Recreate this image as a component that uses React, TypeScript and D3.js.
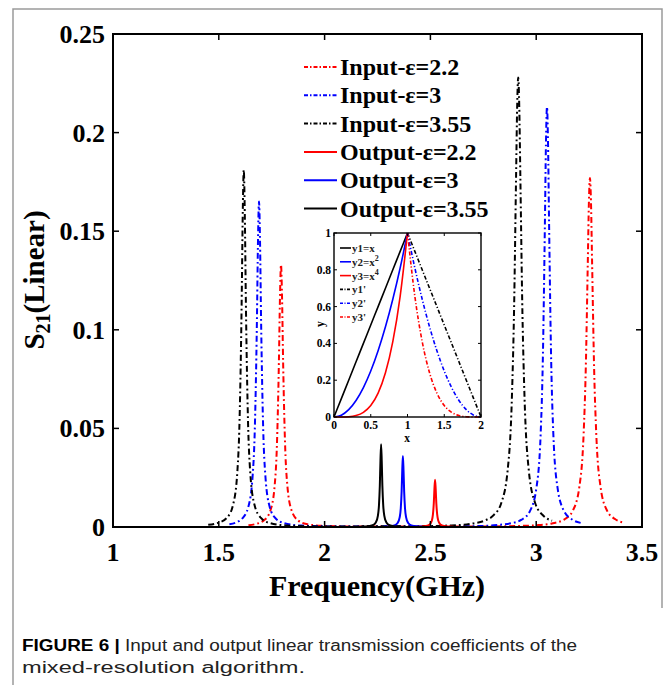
import React from 'react';
import * as d3 from 'd3';

// ---------- Main chart data (Frequency in GHz, S21 linear) ----------
const inputEps22F = [1.64,1.674,1.714,1.744,1.764,1.774,1.784,1.789,1.794,1.799,1.804,1.814,1.824,1.844,1.874,1.914,1.994,2.2,2.7,2.9,3.0,3.074,3.134,3.174,3.204,3.224,3.234,3.244,3.249,3.254,3.259,3.264,3.274,3.284,3.304,3.334,3.374,3.41];
const inputEps22S = [0.0009,0.0015,0.0034,0.0084,0.021,0.0395,0.0835,0.1158,0.133,0.1158,0.0835,0.0395,0.021,0.0084,0.0034,0.0015,0.0006,0.0002,0.0002,0.0005,0.0009,0.0018,0.0039,0.0085,0.0204,0.0469,0.0791,0.1352,0.1643,0.177,0.1643,0.1352,0.0791,0.0469,0.0204,0.0085,0.0039,0.0023];

const inputEps3F = [1.55,1.59,1.61,1.64,1.66,1.67,1.68,1.685,1.69,1.695,1.70,1.71,1.72,1.74,1.77,1.81,1.89,2.1,2.5,2.7,2.8,2.88,2.931,2.971,3.001,3.021,3.031,3.041,3.046,3.051,3.056,3.061,3.071,3.081,3.101,3.131,3.171,3.21];
const inputEps3S = [0.0014,0.0027,0.0042,0.0104,0.0261,0.049,0.1036,0.1437,0.165,0.1437,0.1036,0.049,0.0261,0.0104,0.0042,0.0019,0.0007,0.0002,0.0002,0.0004,0.0009,0.0019,0.0037,0.0082,0.0198,0.0471,0.0831,0.153,0.194,0.213,0.194,0.153,0.0831,0.0471,0.0198,0.0082,0.0037,0.0021];

const inputEps355F = [1.45,1.50,1.54,1.568,1.588,1.598,1.608,1.613,1.618,1.623,1.628,1.638,1.648,1.668,1.698,1.738,1.818,2.0,2.4,2.6,2.7,2.76,2.8,2.835,2.865,2.885,2.895,2.905,2.91,2.915,2.92,2.925,2.935,2.945,2.965,2.995,3.035,3.075];
const inputEps355S = [0.0011,0.0022,0.0049,0.0115,0.0286,0.0538,0.1137,0.1577,0.181,0.1577,0.1137,0.0538,0.0286,0.0115,0.0047,0.0021,0.0008,0.0003,0.0004,0.0008,0.0018,0.0034,0.0061,0.0122,0.0287,0.0652,0.108,0.1785,0.213,0.228,0.213,0.1785,0.108,0.0652,0.0287,0.0122,0.0056,0.0032];

const outputEps22F = [2.44,2.45,2.48,2.497,2.507,2.512,2.516,2.519,2.522,2.525,2.528,2.532,2.537,2.547,2.564,2.594,2.61];
const outputEps22S = [0.0001,0.0002,0.0005,0.0013,0.0033,0.0064,0.012,0.0192,0.024,0.0192,0.012,0.0064,0.0033,0.0013,0.0005,0.0002,0.0001];

const outputEps3F = [2.28,2.30,2.33,2.345,2.355,2.36,2.364,2.367,2.37,2.373,2.376,2.38,2.385,2.395,2.41,2.44,2.46];
const outputEps3S = [0.0002,0.0003,0.0008,0.002,0.005,0.0095,0.018,0.0288,0.036,0.0288,0.018,0.0095,0.005,0.002,0.0008,0.0003,0.0002];

const outputEps355F = [2.17,2.197,2.227,2.242,2.252,2.257,2.261,2.264,2.267,2.270,2.273,2.277,2.282,2.292,2.307,2.337,2.36];
const outputEps355S = [0.0002,0.0003,0.0009,0.0023,0.0058,0.0111,0.021,0.0336,0.042,0.0336,0.021,0.0111,0.0058,0.0023,0.0009,0.0003,0.0002];

const seriesNames = ['Input-ε=2.2','Input-ε=3','Input-ε=3.55','Output-ε=2.2','Output-ε=3','Output-ε=3.55'];
const xTicks = [1,1.5,2,2.5,3,3.5];
const xTickLabels = ['1','1.5','2','2.5','3','3.5'];
const yTicks = [0,0.05,0.1,0.15,0.2,0.25];
const yTickLabels = ['0','0.05','0.1','0.15','0.2','0.25'];

// ---------- Inset data ----------
const insetXLeft = [0,0.1,0.2,0.3,0.4,0.5,0.6,0.7,0.8,0.9,1.0];
const insetY1 = [0,0.1,0.2,0.3,0.4,0.5,0.6,0.7,0.8,0.9,1.0];
const insetY2 = [0,0.01,0.04,0.09,0.16,0.25,0.36,0.49,0.64,0.81,1.0];
const insetY3 = [0,0.0001,0.0016,0.0081,0.0256,0.0625,0.1296,0.2401,0.4096,0.6561,1.0];
const insetXRight = [1.0,1.1,1.2,1.3,1.4,1.5,1.6,1.7,1.8,1.9,2.0];
const insetY1p = [1.0,0.9,0.8,0.7,0.6,0.5,0.4,0.3,0.2,0.1,0];
const insetY2p = [1.0,0.81,0.64,0.49,0.36,0.25,0.16,0.09,0.04,0.01,0];
const insetY3p = [1.0,0.6561,0.4096,0.2401,0.1296,0.0625,0.0256,0.0081,0.0016,0.0001,0];
const insetXTicks = [0,0.5,1,1.5,2];
const insetXTickLabels = ['0','0.5','1','1.5','2'];
const insetYTicks = [0,0.2,0.4,0.6,0.8,1];
const insetYTickLabels = ['0','0.2','0.4','0.6','0.8','1'];

const RED = '#ff0000';
const BLUE = '#0000ff';
const BLACK = '#000000';
const DASHDOT = '6 3 1.8 3';
const SERIF = '"Liberation Serif", "Times New Roman", serif';

function zip(a: number[], b: number[]): [number, number][] {
  return a.map((v, i) => [v, b[i]]);
}

export default function App() {
  const x = d3.scaleLinear().domain([1, 3.5]).range([113, 642]);
  const y = d3.scaleLinear().domain([0, 0.25]).range([527, 34]);
  const line = d3.line<[number, number]>().x(d => x(d[0])).y(d => y(d[1])).curve(d3.curveMonotoneX);

  const series = [
    { f: inputEps22F, s: inputEps22S, color: RED, dash: DASHDOT },
    { f: inputEps3F, s: inputEps3S, color: BLUE, dash: DASHDOT },
    { f: inputEps355F, s: inputEps355S, color: BLACK, dash: DASHDOT },
    { f: outputEps22F, s: outputEps22S, color: RED, dash: null },
    { f: outputEps3F, s: outputEps3S, color: BLUE, dash: null },
    { f: outputEps355F, s: outputEps355S, color: BLACK, dash: null },
  ];

  // inset scales
  const ix = d3.scaleLinear().domain([0, 2]).range([334, 481]);
  const iy = d3.scaleLinear().domain([0, 1]).range([417, 233]);
  const iline = d3.line<[number, number]>().x(d => ix(d[0])).y(d => iy(d[1])).curve(d3.curveMonotoneX);
  const insetSeries = [
    { xs: insetXLeft, ys: insetY1, color: BLACK, dash: null, label: ['y1=x', ''] },
    { xs: insetXLeft, ys: insetY2, color: BLUE, dash: null, label: ['y2=x', '2'] },
    { xs: insetXLeft, ys: insetY3, color: RED, dash: null, label: ['y3=x', '4'] },
    { xs: insetXRight, ys: insetY1p, color: BLACK, dash: '4 2 1.2 2', label: ["y1'", ''] },
    { xs: insetXRight, ys: insetY2p, color: BLUE, dash: '4 2 1.2 2', label: ["y2'", ''] },
    { xs: insetXRight, ys: insetY3p, color: RED, dash: '4 2 1.2 2', label: ["y3'", ''] },
  ];

  const [x0, x1] = x.range();
  const [y0, y1] = y.range();
  const tickLen = 6;

  return (
    <svg width={671} height={685} style={{ position: 'absolute', left: 0, top: 0, background: '#fff' }}>
      <rect x={0} y={0} width={671} height={685} fill="#fff" />
      {/* outer figure frame */}
      <path d="M13,685 L13,9 L662,9 L662,608" fill="none" stroke="#9a9a9a" strokeWidth={1.5} />

      {/* curves */}
      <g fill="none">
        {series.map((sr, i) => (
          <path key={i} d={line(zip(sr.f, sr.s)) || ''} stroke={sr.color} strokeWidth={2}
            strokeDasharray={sr.dash || undefined} strokeLinejoin="round" />
        ))}
      </g>

      {/* axes box */}
      <rect x={x0} y={y1} width={x1 - x0} height={y0 - y1} fill="none" stroke="#000" strokeWidth={2} />
      {/* ticks */}
      <g stroke="#000" strokeWidth={1.5}>
        {xTicks.map((t, i) => (
          <g key={'xt' + i}>
            <line x1={x(t)} x2={x(t)} y1={y0} y2={y0 - tickLen} />
            <line x1={x(t)} x2={x(t)} y1={y1} y2={y1 + tickLen} />
          </g>
        ))}
        {yTicks.map((t, i) => (
          <g key={'yt' + i}>
            <line x1={x0} x2={x0 + tickLen} y1={y(t)} y2={y(t)} />
            <line x1={x1} x2={x1 - tickLen} y1={y(t)} y2={y(t)} />
          </g>
        ))}
      </g>
      <g fontFamily={SERIF} fontWeight="bold" fontSize={26} fill="#000">
        {xTicks.map((t, i) => (
          <text key={'xl' + i} x={x(t)} y={561} textAnchor="middle">{xTickLabels[i]}</text>
        ))}
        {yTicks.map((t, i) => (
          <text key={'yl' + i} x={105} y={y(t) + 9} textAnchor="end">{yTickLabels[i]}</text>
        ))}
      </g>
      {/* axis labels */}
      <text x={377} y={596} textAnchor="middle" fontFamily={SERIF} fontWeight="bold" fontSize={30}>Frequency(GHz)</text>
      <text transform="translate(44,280) rotate(-90)" textAnchor="middle" fontFamily={SERIF} fontWeight="bold" fontSize={29}>
        S<tspan fontSize={20} dy={6}>21</tspan><tspan dy={-6}>(Linear)</tspan>
      </text>

      {/* legend */}
      <g fontFamily={SERIF} fontWeight="bold" fontSize={24}>
        {seriesNames.map((nm, i) => {
          const cy = 67 + i * 28.3;
          return (
            <g key={'lg' + i}>
              <line x1={304} x2={337} y1={cy} y2={cy} stroke={series[i].color} strokeWidth={2}
                strokeDasharray={series[i].dash ? '4 2 1.5 2' : undefined} />
              <text x={340} y={cy + 8}>{nm}</text>
            </g>
          );
        })}
      </g>

      {/* inset */}
      <g>
        <rect x={334} y={233} width={147} height={184} fill="#fff" />
        <g fill="none">
          {insetSeries.map((s, i) => (
            <path key={'is' + i} d={iline(zip(s.xs, s.ys)) || ''} stroke={s.color} strokeWidth={1.6}
              strokeDasharray={s.dash || undefined} />
          ))}
        </g>
        <rect x={334} y={233} width={147} height={184} fill="none" stroke="#000" strokeWidth={1.4} />
        <g stroke="#000" strokeWidth={1}>
          {insetXTicks.map((t, i) => (
            <g key={'ixt' + i}>
              <line x1={ix(t)} x2={ix(t)} y1={417} y2={414} />
              <line x1={ix(t)} x2={ix(t)} y1={233} y2={236} />
            </g>
          ))}
          {insetYTicks.map((t, i) => (
            <g key={'iyt' + i}>
              <line x1={334} x2={337} y1={iy(t)} y2={iy(t)} />
              <line x1={481} x2={478} y1={iy(t)} y2={iy(t)} />
            </g>
          ))}
        </g>
        <g fontFamily={SERIF} fontWeight="bold" fontSize={11.5}>
          {insetXTicks.map((t, i) => (
            <text key={'ixl' + i} x={ix(t)} y={429} textAnchor="middle">{insetXTickLabels[i]}</text>
          ))}
          {insetYTicks.map((t, i) => (
            <text key={'iyl' + i} x={331} y={iy(t) + 4} textAnchor="end">{insetYTickLabels[i]}</text>
          ))}
          <text x={407} y={442} textAnchor="middle">x</text>
          <text transform="translate(324,324) rotate(-90)" textAnchor="middle">y</text>
        </g>
        <g fontFamily={SERIF} fontWeight="bold" fontSize={11}>
          {insetSeries.map((s, i) => {
            const cy = 248 + i * 13.8;
            return (
              <g key={'il' + i}>
                <line x1={340} x2={351} y1={cy} y2={cy} stroke={s.color} strokeWidth={1.6}
                  strokeDasharray={s.dash ? '3 1.5 1 1.5' : undefined} />
                <text x={352} y={cy + 4} fill="#222">
                  {s.label[0]}{s.label[1] ? <tspan fontSize={8} dy={-5}>{s.label[1]}</tspan> : null}
                </text>
              </g>
            );
          })}
        </g>
      </g>

      {/* caption */}
      <text x={22} y={651} fontFamily='"Liberation Sans", Arial, sans-serif' fontSize={16} fill="#222"
        textLength={555} lengthAdjust="spacingAndGlyphs">
        <tspan fontWeight="bold" fill="#000">FIGURE 6 | </tspan>Input and output linear transmission coefficients of the
      </text>
      <text x={22} y={673} fontFamily='"Liberation Sans", Arial, sans-serif' fontSize={16} fill="#222"
        textLength={283} lengthAdjust="spacingAndGlyphs">
        mixed-resolution algorithm.
      </text>
    </svg>
  );
}
